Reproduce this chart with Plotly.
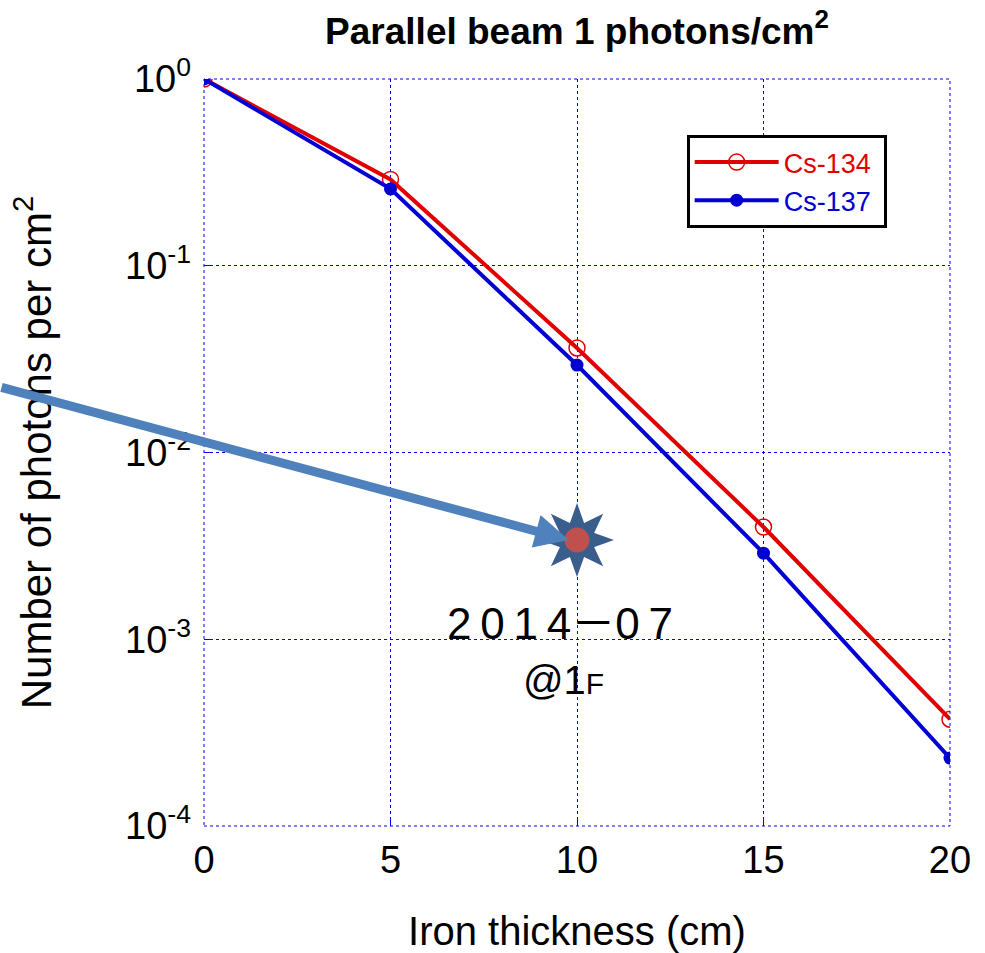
import numpy as np
import plotly.graph_objects as go

# ---- data ----
thickness = [0, 5, 10, 15, 20]
cs134 = [1.0, 0.290, 0.0363, 0.00399, 0.000373]
cs137 = [1.0, 0.258, 0.0294, 0.00289, 0.000231]
series_names = ["Cs-134", "Cs-137"]
x_ticks = [0, 5, 10, 15, 20]
y_ticks = [1, 0.1, 0.01, 0.001, 0.0001]
y_ticktext = ["10<sup>0</sup>", "10<sup>-1</sup>", "10<sup>-2</sup>", "10<sup>-3</sup>", "10<sup>-4</sup>"]
star_x = 10
star_y = 0.0034
star_label = "2\u20090\u20091\u20094\uff0d0\u20097"
star_sublabel = "@1<span style='font-size:30px'>F</span>"

RED = "#E10000"
BLUE = "#0000D2"
FONT = "Liberation Sans, Arial, sans-serif"

fig = go.Figure()
fig.add_trace(go.Scatter(
    x=thickness, y=cs134, name="<span style='color:%s'>%s</span>&nbsp;" % (RED, series_names[0]),
    mode="lines+markers",
    line=dict(color=RED, width=4),
    marker=dict(symbol="circle-open", size=16, color=RED, line=dict(width=1.5)),
))
fig.add_trace(go.Scatter(
    x=thickness, y=cs137, name="<span style='color:%s'>%s</span>&nbsp;" % (BLUE, series_names[1]),
    mode="lines+markers",
    line=dict(color=BLUE, width=4),
    marker=dict(symbol="circle", size=13, color=BLUE),
))

# star marker (8-pointed) drawn in pixel units anchored to data point
def poly_path(radii, n, rot=np.pi / 2):
    pts = []
    for i in range(n):
        r = radii[i % len(radii)]
        a = rot + i * 2 * np.pi / n
        pts.append((r * np.cos(a), r * np.sin(a)))
    return "M " + " L ".join("%.2f,%.2f" % p for p in pts) + " Z"

star_path = poly_path([34, 17], 16)
dot_path = poly_path([12], 40)

shapes = [
    dict(type="path", xref="x", yref="y", xsizemode="pixel", ysizemode="pixel",
         xanchor=star_x, yanchor=star_y, path=star_path,
         fillcolor="#3A5E8C", line=dict(color="#3A5E8C", width=2), layer="above"),
    dict(type="path", xref="x", yref="y", xsizemode="pixel", ysizemode="pixel",
         xanchor=star_x, yanchor=star_y, path=dot_path,
         fillcolor="#C0504D", line=dict(color="#C0504D", width=1), layer="above"),
    dict(type="rect", xref="paper", yref="paper", x0=0, x1=1, y0=0, y1=1,
         line=dict(color="#0000FF", width=1, dash="dot"), layer="below"),
]

annotations = [
    dict(x=star_x - 0.22, y=np.log10(star_y), xref="x", yref="y", text="",
         showarrow=True, arrowhead=2, arrowsize=0.75, arrowwidth=9,
         arrowcolor="#4F81BD", ax=-590, ay=-153),
    dict(x=star_x, y=np.log10(star_y) - 0.445, xref="x", yref="y", text=star_label,
         showarrow=False, xshift=-17, font=dict(family="Liberation Sans, Noto Sans CJK JP", size=44, color="black")),
    dict(x=star_x, y=np.log10(star_y) - 0.75, xref="x", yref="y", text=star_sublabel,
         showarrow=False, xshift=-14, font=dict(family="Liberation Sans, Noto Sans CJK JP", size=40, color="black")),
]

fig.update_layout(
    width=985, height=953,
    margin=dict(l=204, r=35, t=79, b=127, autoexpand=False),
    paper_bgcolor="white", plot_bgcolor="white",
    font=dict(family=FONT, color="black"),
    title=dict(text="<b>Parallel beam 1 photons/cm<sup>2</sup></b>",
               font=dict(family=FONT, size=37, color="black"),
               x=0.5, xref="paper", xanchor="center",
               y=1 - 31 / 953, yref="container", yanchor="middle"),
    showlegend=True,
    legend=dict(x=0.647, y=0.925, xanchor="left", yanchor="top",
                bgcolor="white", bordercolor="black", borderwidth=3,
                font=dict(family=FONT, size=27), itemwidth=84,
                tracegroupgap=0),
    shapes=shapes,
    annotations=annotations,
)
fig.update_xaxes(
    range=[0, 20], tickvals=x_ticks, ticktext=[str(v) for v in x_ticks],
    ticks="inside", ticklen=6, tickcolor="#0000FF", automargin=False,
    showgrid=True, gridcolor="#0000FF", gridwidth=1, griddash="dot",
    zeroline=False, showline=False,
    tickfont=dict(family=FONT, size=38, color="black"), ticklabelstandoff=8,
    title=dict(text="Iron thickness (cm)", font=dict(family=FONT, size=40, color="black"), standoff=38),
)
fig.update_yaxes(
    type="log", range=[-4, 0], tickvals=y_ticks, ticktext=y_ticktext,
    ticks="inside", ticklen=6, tickcolor="#0000FF", automargin=False,
    showgrid=True, gridcolor="#0000FF", gridwidth=1, griddash="dot",
    zeroline=False, showline=False,
    tickfont=dict(family=FONT, size=38, color="black"), ticklabelstandoff=12,
    title=dict(text="Number of photons per cm<sup>2</sup>", font=dict(family=FONT, size=42, color="black"), standoff=60),
)

fig.write_html("out.html")
